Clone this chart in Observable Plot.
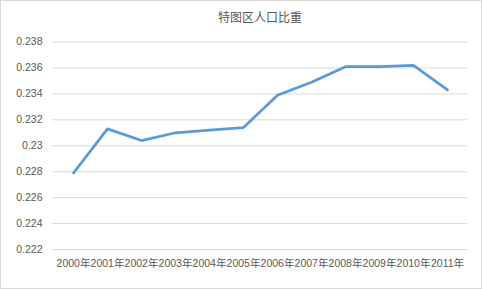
<!DOCTYPE html>
<html>
<head>
<meta charset="utf-8">
<script src="https://cdn.jsdelivr.net/npm/d3@7"></script>
<script src="https://cdn.jsdelivr.net/npm/@observablehq/plot@0.6"></script>
<style>
  html, body { margin: 0; padding: 0; background: #fff; }
  #wrap { position: relative; width: 482px; height: 289px; }
  #border { position: absolute; left: 0; top: 0; width: 482px; height: 289px; box-sizing: border-box; border: 1px solid #d9d9d9; pointer-events: none; }
</style>
</head>
<body>
<div id="wrap"><div id="border"></div></div>
<script>
const title = "特图区人口比重";
const years = ["2000年","2001年","2002年","2003年","2004年","2005年","2006年","2007年","2008年","2009年","2010年","2011年"];
const values = [0.2279, 0.2313, 0.2304, 0.2310, 0.2312, 0.2314, 0.2339, 0.2349, 0.2361, 0.2361, 0.2362, 0.2343];
const yTicks = [0.222, 0.224, 0.226, 0.228, 0.23, 0.232, 0.234, 0.236, 0.238];

const data = years.map((y, i) => ({year: y, value: values[i]}));

const chart = Plot.plot({
  width: 482,
  height: 289,
  marginLeft: 52,
  marginRight: 15,
  marginTop: 41.5,
  marginBottom: 40,
  style: {fontFamily: "'Liberation Sans', 'Noto Sans CJK SC', sans-serif", fontSize: "10.5px", color: "#595959", background: "transparent"},
  x: {type: "band", domain: years, padding: 0, label: null, tickSize: 0, tickPadding: 10},
  y: {domain: [0.222, 0.238], ticks: yTicks, tickSize: 0, tickPadding: 10, label: null, tickFormat: d => String(+d.toFixed(3))},
  marks: [
    Plot.gridY(yTicks, {stroke: "#d9d9d9", strokeOpacity: 1, strokeWidth: 1}),
    Plot.lineY(data, {x: "year", y: "value", stroke: "#5b9bd5", strokeWidth: 2.75, strokeLinejoin: "round", strokeLinecap: "round"}),
    Plot.text([title], {frameAnchor: "top", dy: -23.5, lineAnchor: "middle", fontSize: 12, fill: "#595959", fontFamily: "'Noto Sans CJK SC', sans-serif"})
  ]
});
document.getElementById("wrap").prepend(chart);
</script>
</body>
</html>
